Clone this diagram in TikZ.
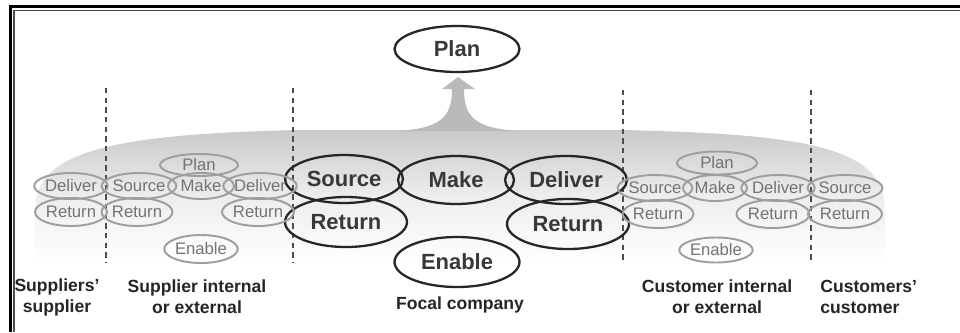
\documentclass[tikz,border=0pt]{standalone}
\usepackage{fontspec}
\setmainfont{Liberation Sans}
\usetikzlibrary{shapes.geometric}
\tikzset{
  x=0.02cm, y=-0.02cm,
  bigell/.style={ellipse, draw=black!85, line width=1.3pt, inner sep=0pt,
    text=black!78, font=\fontsize{12.5}{15}\selectfont\bfseries},
  smallell/.style={ellipse, draw=black!38, line width=1.1pt, inner sep=0pt,
    minimum height=0.52cm, text=black!55, font=\fontsize{9.5}{11}\selectfont},
  divider/.style={black!70, line width=1.3pt, dash pattern=on 3pt off 2.5pt},
  grouplabel/.style={font=\fontsize{10}{12}\selectfont\bfseries, text=black!85, align=center, inner sep=0pt},
}
\begin{document}
\begin{tikzpicture}
\useasboundingbox (0,0) rectangle (960,332);
\fill[white] (0,0) rectangle (960,332);
% frame (left and top)
\draw[black, line width=1.4pt] (10.5,332) -- (10.5,6.5) -- (960,6.5);
\draw[black!70, line width=0.6pt] (14,332) -- (14,10.5) -- (960,10.5);
% band
\shade[top color=black!21, bottom color=white, middle color=black!7]
  (35,210) .. controls (35,152) and (110,134) .. (300,130) -- (620,130)
  .. controls (810,134) and (885,148) .. (885,210) -- (885,262) -- (35,262) -- cycle;
% arrow
\fill[black!27] (398,131) .. controls (440,128) and (452,118) .. (452,89) -- (442,89) -- (458,77)
  -- (475,89) -- (464,89) .. controls (464,118) and (476,128) .. (518,131) -- cycle;
% dividers
\coordinate (d1t) at (106,88); \coordinate (d1b) at (106,262);
\coordinate (d2t) at (293,88); \coordinate (d2b) at (293,262);
\coordinate (d3t) at (623,90); \coordinate (d3b) at (623,260);
\coordinate (d4t) at (811,90); \coordinate (d4b) at (811,260);
\draw[divider] (d1t) -- (d1b);
\draw[divider] (d2t) -- (d2b);
\draw[divider] (d3t) -- (d3b);
\draw[divider] (d4t) -- (d4b);
% focal company
\node[bigell, minimum width=2.5cm, minimum height=0.92cm] (plan) at (457,49) {Plan};
\node[bigell, minimum width=2.36cm, minimum height=0.96cm] (fsrc) at (344,179) {Source};
\node[bigell, minimum width=2.32cm, minimum height=0.96cm] (fmake) at (456,180) {Make};
\node[bigell, minimum width=2.44cm, minimum height=0.96cm] (fdel) at (566,180) {Deliver};
\node[bigell, minimum width=2.44cm, minimum height=1.0cm] (fretl) at (346,222) {Return};
\node[bigell, minimum width=2.44cm, minimum height=1.0cm] (fretr) at (568,224) {Return};
\node[bigell, minimum width=2.5cm, minimum height=1.0cm] (fen) at (457,262) {Enable};
% suppliers' supplier
\node[smallell, minimum width=1.44cm] (ssdel) at (71,186) {Deliver};
\node[smallell, minimum width=1.44cm, minimum height=0.56cm] (ssret) at (71,212) {Return};
% supplier
\node[smallell, minimum width=1.36cm] (ssrc) at (139,186) {Source};
\node[smallell, minimum width=1.26cm, minimum height=0.56cm] (sretl) at (137,212) {Return};
\node[smallell, minimum width=1.56cm, minimum height=0.44cm] (splan) at (199,165) {Plan};
\node[smallell, minimum width=1.32cm] (smake) at (201,186) {Make};
\node[smallell, minimum width=1.32cm] (sdel) at (260,186) {Deliver};
\node[smallell, minimum width=1.44cm, minimum height=0.56cm] (sretr) at (258,212) {Return};
\node[smallell, minimum width=1.36cm, minimum height=0.56cm] (sen) at (201,249) {Enable};
% customer
\node[smallell, minimum width=1.6cm, minimum height=0.46cm] (cplan) at (717,163) {Plan};
\node[smallell, minimum width=1.22cm] (csrc) at (655,188) {Source};
\node[smallell, minimum width=1.28cm] (cmake) at (715,188) {Make};
\node[smallell, minimum width=1.4cm] (cdel) at (778,188) {Deliver};
\node[smallell, minimum width=1.34cm, minimum height=0.56cm] (cretl) at (658,214) {Return};
\node[smallell, minimum width=1.46cm, minimum height=0.56cm] (cretr) at (773,214) {Return};
\node[smallell, minimum width=1.44cm, minimum height=0.5cm] (cen) at (716,250) {Enable};
% customers' customer
\node[smallell, minimum width=1.48cm] (ccsrc) at (845,188) {Source};
\node[smallell, minimum width=1.48cm, minimum height=0.56cm] (ccret) at (845,214) {Return};
% group labels
\node[grouplabel] (l1) at (57,297) {Suppliers'\\supplier};
\node[grouplabel] (l2) at (197,297) {Supplier internal\\or external};
\node[grouplabel] (l3) at (460,305) {Focal company};
\node[grouplabel] (l4) at (717,297) {Customer internal\\or external};
\node[grouplabel, align=left, anchor=west] (l5) at (820,297) {Customers'\\customer};
\end{tikzpicture}
\end{document}
